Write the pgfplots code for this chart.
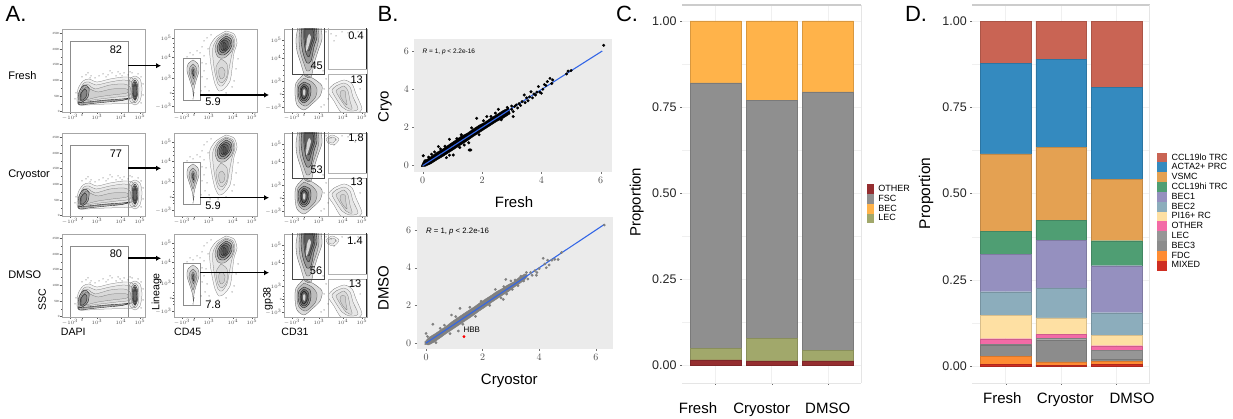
\documentclass[border=0pt]{standalone}
\usepackage{fontspec}
\setmainfont{Liberation Sans}
\usepackage{pgfplots}
\pgfplotsset{compat=1.18}
\usetikzlibrary{arrows.meta}
\definecolor{cOther}{HTML}{952E30}
\definecolor{cLec}{HTML}{A1A86B}
\definecolor{cFsc}{HTML}{8F8F8F}
\definecolor{cBec}{HTML}{FFB34A}
\definecolor{dLo}{HTML}{C96454}
\definecolor{dActa}{HTML}{348ABF}
\definecolor{dVsmc}{HTML}{E4A152}
\definecolor{dHi}{HTML}{4F9E73}
\definecolor{dBa}{HTML}{9590BF}
\definecolor{dBb}{HTML}{8CADBC}
\definecolor{dPi}{HTML}{FEE0A3}
\definecolor{dOth}{HTML}{F36BA6}
\definecolor{dLec}{HTML}{969696}
\definecolor{dBc}{HTML}{8C8C8C}
\definecolor{dFdc}{HTML}{FF8C33}
\definecolor{dMix}{HTML}{CF2E22}
\definecolor{gridc}{HTML}{F0F0F0}
\definecolor{blueline}{HTML}{3366E6}
\newcommand\lab[5][]{\node[inner sep=0,outer sep=0,font=\fontsize{#2}{#2}\selectfont,#1] at (#3pt,{(419-(#4))*1pt}) {\vphantom{Ay}#5};}
\pgfplotsset{
 ct/.style={smooth,no markers,draw=black!55,line width=.25pt,fill=black,fill opacity=.05},
 ctm/.style={smooth,no markers,draw=black!65,line width=.3pt,fill=black,fill opacity=.14},
 ctd/.style={smooth,no markers,draw=black!85,line width=.4pt,fill=black,fill opacity=.2},
 cw/.style={smooth,no markers,draw=none,fill=white,fill opacity=.75},
 gate/.style={no markers,draw=black!45,line width=.8pt,sharp plot},
 dots/.style={only marks,mark=*,mark size=.22pt,draw=black!70,fill=black!70},
 flow/.style={scale only axis,width=83pt,height=83pt,xmin=0,xmax=83,ymin=0,ymax=83,y dir=reverse,
  axis line style={draw=black!35,line width=.7pt},
  tick style={black!65,line width=.3pt},major tick length=1.6pt,minor tick length=.9pt,tick align=outside,
  xtick pos=lower,xticklabel pos=lower,ytick pos=left,
  tick label style={font=\fontsize{3}{3}\selectfont,inner sep=.6pt,text=black!70},
  xtick={8,20,35,59,78},xticklabels={$-10^3$,0,$10^3$,$10^4$,$10^5$},
  minor xtick={12,15,16,17,18,19,21,22,23,25,28,31,41,46,50,53,56,65,69,72,75},
  clip=true},
 bplot/.style={scale only axis,axis background/.style={fill=black!8},axis line style={draw=none},
  tick style={black!55,line width=.4pt},major tick length=2pt,tick align=outside,
  xtick pos=lower,ytick pos=left,xtick={0,2,4,6},ytick={0,2,4,6},
  tick label style={font=\fontsize{10}{10}\selectfont,text=black!70},
  clip=true},
 stack/.style={scale only axis,ybar stacked,ymin=-.05,
  axis line style={draw=none},ytick={0,.25,.5,.75,1},yticklabels={0.00,0.25,0.50,0.75,1.00},
  minor ytick={.125,.375,.625,.875},
  xtick={1,2,3},xticklabels={},
  ymajorgrids,xmajorgrids,yminorgrids,
  major grid style={gridc,line width=.7pt},minor grid style={gridc,line width=.4pt},
  tick style={black!60,line width=.4pt},major tick length=2pt,minor tick length=0pt,tick align=outside,
  xtick pos=lower,ytick pos=left,
  tick label style={font=\fontsize{12.5}{12.5}\selectfont,text=black!85},
  axis on top=false},
 seg/.style={draw=#1!85!black,line width=.3pt,fill=#1}
}
% --- contours of the DAPI / SSC gate, in pixels from the panel's top left corner
\newcommand\contA{
\addplot[ct] coordinates {(15,72)(16,60)(21,52)(27,50)(35,53)(48,50)(62,48)(70,49)(74,56)(74,68)(70,74)(45,75)(25,76)(17,76)(15,72)};
\addplot[ct] coordinates {(17,71)(18,61)(22,54)(27,53)(34,56)(48,53)(62,51)(70,53)(71,60)(71,68)(62,71)(40,72)(24,74)(18,74)(17,71)};
\addplot[ct] coordinates {(18,70)(19,62)(23,56)(27,56)(33,60)(48,56)(62,55)(68,58)(68,66)(55,68)(38,70)(24,72)(19,72)(18,70)};
\addplot[ct] coordinates {(19,70)(20,63)(24,58)(28,60)(36,63)(50,60)(65,60)(65,64)(50,66)(36,68)(24,71)(20,72)(19,70)};
\addplot[ctd] coordinates {(16,72)(17,63)(22,56)(27,59)(26,68)(22,72)(17,74)(16,72)};
\addplot[ctd] coordinates {(18,71)(19,64)(23,60)(25,63)(24,68)(21,71)(18,71)};
\addplot[ctd] coordinates {(16,74)(30,72.5)(45,71)(60,70)(68,69)(60,71.5)(45,73)(30,74.5)(18,76)(16,74)};
\addplot[ct] coordinates {(73,47)(78,50)(80,60)(78,72)(73,76)(68,72)(67,60)(68,50)(73,47)};
\addplot[ct] coordinates {(73,49)(76,52)(77,60)(76,70)(73,74)(70,70)(69,60)(70,52)(73,49)};
\addplot[ctd] coordinates {(73,51)(75,54)(76,61)(75,68)(73,71)(71,68)(70,61)(71,54)(73,51)};
\addplot[ctd] coordinates {(73,53)(74.5,56)(75,62)(74.5,67)(73,70)(71.5,67)(71,62)(71.5,56)(73,53)};
\addplot[ctd] coordinates {(73,55)(74,58)(74,63)(74,66)(73,68)(72,66)(72,62)(72,58)(73,55)};
\addplot[dots] coordinates {(20,48)(24,46)(29,47)(33,49)(37,47)(41,45)(46,46)(50,44)(54,47)(58,45)(62,44)(66,46)(70,44)(76,45)(79,48)(81,55)(81,66)(79,74)(28,49)(44,48)(60,47)(68,43)(26,44)(48,42)(56,43)(13,70)(14,64)};
}
% --- contours of the CD45 / Lineage gate
\newcommand\contB{
\addplot[ct] coordinates {(52,2)(60,5)(63,14)(60,24)(58,40)(56,52)(50,60)(45,62)(41,55)(38,42)(36,28)(36,17)(42,8)(52,2)};
\addplot[ct] coordinates {(52,4)(59,7)(61,15)(58,25)(55,40)(53,50)(48,57)(44,55)(41,44)(39,30)(39,18)(44,9)(52,4)};
\addplot[ct] coordinates {(47,30)(53,35)(53,47)(48,54)(44,50)(42,38)(47,30)};
\addplot[ct] coordinates {(48,38)(51,42)(50,48)(47,50)(45,46)(45,40)(48,38)};
\addplot[ctm] coordinates {(52,5)(58,8)(60,15)(57,23)(50,29)(44,28)(41,20)(44,11)(52,5)};
\addplot[ctd] coordinates {(52,7)(57,10)(58,16)(55,22)(50,26)(45,25)(43,19)(46,12)(52,7)};
\addplot[ctd] coordinates {(52,9)(56,12)(56,17)(53,21)(49,24)(46,22)(45,18)(47,13)(52,9)};
\addplot[ctd] coordinates {(51,11)(54,13)(54,17)(52,21)(49,22)(47,20)(47,16)(49,12)(51,11)};
\addplot[ctd] coordinates {(50,13)(52,15)(52,19)(50,21)(49,19)(49,15)(50,13)};
\addplot[ctm] coordinates {(19,31)(24,35)(25,42)(22,52)(20,60)(19.5,68)(18.5,60)(16,52)(13,42)(14,35)(19,31)};
\addplot[ctm] coordinates {(19,35)(22,38)(23,43)(21,50)(19,56)(17,50)(15,43)(16,38)(19,35)};
\addplot[ctm] coordinates {(19,38)(21,41)(21,45)(19.5,50)(18,46)(17,42)(19,38)};
\addplot[ctd] coordinates {(19,40)(20,43)(19.5,47)(18.5,44)(19,40)};
\addplot[dots] coordinates {(30,12)(33,9)(28,18)(26,24)(30,27)(23,22)(16,24)(19,26)(13,28)(32,35)(30,42)(33,50)(31,58)(35,62)(28,48)(27,62)(36,66)(44,66)(52,64)(58,58)(62,40)(64,30)(34,20)(37,6)(20,64)(19,70)(28,34)(60,52)};
}
% --- contours of the CD31 / gp38 gate
\newcommand\contC{
\addplot[ctm] coordinates {(14,-2)(12,10)(13,22)(17,35)(21,47)(27,48)(30,35)(34,22)(38,10)(37,-2)};
\addplot[ctm] coordinates {(16,-2)(15,10)(16,22)(20,35)(23,42)(27,40)(29,30)(33,18)(35,8)(34,-2)};
\addplot[ctd] coordinates {(18,-2)(17,10)(19,24)(23,34)(27,32)(30,18)(33,8)(32,-2)};
\addplot[ctd] coordinates {(20,-1)(20,12)(22,24)(25,28)(28,18)(31,8)(30,-1)(25,-1)};
\addplot[ctd] coordinates {(21,-1)(21,10)(23,20)(25,22)(27,16)(30,6)(28,-1)};
\addplot[cw] coordinates {(25,5)(27,8)(25,16)(23,22)(22,20)(23,10)(25,5)};
\addplot[ctm] coordinates {(20,45)(30,50)(38,57)(36,67)(28,75)(20,81)(13,76)(11,65)(12,54)(20,45)};
\addplot[ctm] coordinates {(20,49)(28,53)(33,60)(31,69)(22,77)(15,73)(13,64)(14,55)(20,49)};
\addplot[ctd] coordinates {(20,53)(26,56)(27,63)(25,70)(20,74)(16,71)(14,64)(15,57)(20,53)};
\addplot[ctd] coordinates {(20,55)(24,58)(25,64)(23,70)(20,72)(17,70)(16,64)(17,58)(20,55)};
\addplot[ctd,line width=.8pt] coordinates {(20,57)(23,60)(23,66)(20,70)(18,68)(17,63)(18,59)(20,57)};
\addplot[cw] coordinates {(20,60)(21.5,62)(21,66)(20,67)(19,65)(19,62)(20,60)};
\addplot[ct] coordinates {(50,55)(60,51)(68,55)(72,65)(78,80)(72,84)(58,84)(50,72)(44,62)(50,55)};
\addplot[ct] coordinates {(52,57)(60,54)(66,58)(69,68)(74,80)(66,82)(58,78)(50,66)(48,61)(52,57)};
\addplot[ct] coordinates {(54,60)(60,57)(64,62)(66,72)(68,80)(62,78)(55,68)(52,62)(54,60)};
\addplot[ct] coordinates {(57,62)(61,62)(62,70)(63,76)(59,72)(56,66)(57,62)};
\addplot[dots] coordinates {(42,3)(47,5)(52,7)(58,3)(64,4)(71,9)(74,3)(50,12)(39,42)(42,50)(44,70)(40,76)(70,52)(76,60)(37,78)(40,60)};
\addplot[gate,draw=black!72] coordinates {(8,-1)(8,45)(40,45)(40,-1)};
\addplot[gate,draw=black!30] coordinates {(44,-1)(44,40)(84,40)};
\addplot[gate,draw=black!30] coordinates {(44,84)(44,45)(84,45)};
\addplot[gate,draw=black!85] coordinates {(82.5,-1)(82.5,40)};
\addplot[gate,draw=black!85] coordinates {(82.5,45)(82.5,84)};
}
\newcommand\flowA[2]{\begin{axis}[flow,at={(#1pt,{(419-#2-83)*1pt})},anchor=south west,
 ytick={4,20,35,51,67,82},yticklabels={250K,200K,150K,100K,50K,0},
 minor ytick={12,28,43,59,75}]
\contA
\addplot[gate] coordinates {(8,84)(8,12)(66,12)(66,84)};
\end{axis}}
\newcommand\flowB[2]{\begin{axis}[flow,at={(#1pt,{(419-#2-83)*1pt})},anchor=south west,
 ytick={9,28,49,64,77},yticklabels={$10^5$,$10^4$,$10^3$,0,$-10^3$},
 minor ytick={14,18,22,34,39,43,58,61,67,70}]
\contB
\addplot[gate,line width=.6pt] coordinates {(9,29)(26,29)(26,71)(9,71)(9,29)};
\end{axis}}
\newcommand\flowC[3]{\begin{axis}[flow,at={(#1pt,{(419-#2-83)*1pt})},anchor=south west,
 ytick={11,29,52,65,78},yticklabels={$10^5$,$10^4$,$10^3$,0,$-10^3$},
 minor ytick={16,20,24,36,41,46,59,62,68,72}]
\contC
#3
\end{axis}}
\newcommand\smallc{
\addplot[ct] coordinates {(42,6)(48,2)(55,6)(50,12)(44,10)(42,6)};
\addplot[ct] coordinates {(44,6)(48,4)(52,6)(49,10)(45,9)(44,6)};
}
\begin{document}
\begin{tikzpicture}
\path[use as bounding box] (0,0) rectangle (1233pt,419pt);

% ---------- A ----------
\flowA{62}{29}\flowA{62}{133}\flowA{62}{234}
\flowB{174}{29}\flowB{174}{133}\flowB{174}{234}
\flowC{284}{29}{}\flowC{284}{133}{\smallc}\flowC{284}{234}{\smallc}
\foreach \xa/\xb/\yy in {128/161/65.7,200/269/95,128/161/168.3,200/269/197.7,128/161/258.3,200/269/272.7}{
 \draw[line width=1.6pt,-{Latex[length=5pt,width=5.5pt]}] (\xa pt,{(419-\yy)*1pt}) -- (\xb pt,{(419-\yy)*1pt});
}
\lab{22}{16}{16}{A.}
\lab[anchor=west]{11}{8.3}{77}{Fresh}
\lab[anchor=west]{11}{8.3}{175}{Cryostor}
\lab[anchor=west]{11}{8.3}{275.7}{DMSO}
\lab{11}{116}{51}{82}\lab{11}{116}{155}{77}\lab{11}{116}{255}{80}
\lab{11}{213}{103}{5.9}\lab{11}{213}{207}{5.9}\lab{11}{213}{305.7}{7.8}
\lab{11}{316.7}{67}{45}\lab{11}{316.7}{171}{53}\lab{11}{316}{272}{56}
\lab{11}{356}{36.7}{0.4}\lab{11}{356}{139.3}{1.8}\lab{11}{355}{242.3}{1.4}
\lab{11}{356.7}{81}{13}\lab{11}{356.7}{183.3}{13}\lab{11}{355}{285.3}{13}
\lab[rotate=90]{10.6}{43.3}{300}{SSC}
\lab[rotate=90]{10.6}{156.7}{292}{Lineage}
\lab[rotate=90]{10.6}{268}{299}{gp38}
\lab{10.6}{73.3}{332.7}{DAPI}
\lab{10.6}{187.7}{332.7}{CD45}
\lab{10.6}{295}{332.7}{CD31}

% ---------- B ----------
\begin{axis}[bplot,at={(414.3pt,247pt)},anchor=south west,width=198pt,height=133pt,
 xmin=-.283,xmax=6.39,ymin=-.33,ymax=6.63]
\addplot[draw=black,fill=black,line width=.4pt,no markers] coordinates {(-.05,-.02)(.05,.3)(.15,.34)(.3,.5)(.5,.72)(.7,.9)(.9,1.12)(1.1,1.33)(1.3,1.55)(1.5,1.7)(1.7,1.92)(1.9,2.12)(2.1,2.28)(2.3,2.5)(2.5,2.68)(2.7,2.88)(2.9,3.03)(2.95,2.72)(2.7,2.47)(2.5,2.32)(2.3,2.12)(2.1,1.92)(1.9,1.72)(1.7,1.52)(1.5,1.3)(1.3,1.1)(1.1,.9)(.9,.7)(.7,.5)(.5,.32)(.3,.12)(.1,-.03)(-.05,-.05)};
\addplot[only marks,mark=*,mark size=1.3pt,draw=black,fill=black] coordinates {
(.02,.52)(.2,.45)(.3,.6)(.4,.72)(.53,1.0)(.6,.88)(.75,1.02)(.8,.42)(.9,.55)(.9,1.38)(1.03,.56)(1.15,1.42)(1.25,.95)(1.3,1.62)(1.4,1.08)(1.57,.82)(1.62,.82)(1.55,1.2)(1.65,1.98)(1.82,2.48)(1.9,1.62)(2.05,2.35)(2.16,2.57)(2.3,2.58)(2.45,2.75)(2.55,2.95)(2.65,2.4)(2.85,3.05)(3.0,3.12)(3.05,2.57)(3.05,2.83)(3.0,2.95)(3.1,3.1)(3.15,3.18)(3.2,3.02)(3.25,3.25)(3.3,3.15)(3.35,3.35)(3.42,3.7)(3.45,3.3)(3.5,3.55)(3.55,3.4)(3.6,3.6)(3.65,3.87)(3.7,3.55)(3.75,3.75)(3.8,3.7)(3.85,3.85)(3.9,4.14)(3.95,3.85)(4.0,3.79)(4.05,4.0)(4.1,4.25)(4.15,4.2)(4.2,4.4)(4.29,4.57)(4.35,4.3)(4.38,4.49)(4.85,4.8)(4.9,4.95)(5.0,4.98)(6.1,6.3)};
\addplot[blueline,line width=1.1pt,no markers] coordinates {(0,0)(3,3)(6.05,6.0)};
\end{axis}
\begin{axis}[bplot,at={(416.7pt,70.3pt)},anchor=south west,width=196.6pt,height=131.4pt,
 xmin=-.33,xmax=6.62,ymin=-.3,ymax=6.68]
\addplot[draw=black!50,fill=black!50,line width=.4pt,no markers] coordinates {(-.05,.05)(.1,.3)(.3,.48)(.5,.68)(.7,.88)(.9,1.12)(1.1,1.33)(1.3,1.53)(1.5,1.73)(1.7,1.92)(1.9,2.14)(2.1,2.34)(2.3,2.53)(2.5,2.74)(2.7,2.9)(2.9,3.1)(3.1,3.25)(3.3,3.5)(3.5,3.68)(3.6,3.6)(3.5,3.38)(3.3,3.15)(3.1,2.95)(2.9,2.72)(2.7,2.54)(2.5,2.34)(2.3,2.14)(2.1,1.92)(1.9,1.72)(1.7,1.5)(1.5,1.29)(1.3,1.09)(1.1,.89)(.9,.69)(.7,.49)(.5,.27)(.3,.06)(.1,-.1)(-.05,-.08)};
\addplot[only marks,mark=*,mark size=1.2pt,draw=black!50,fill=black!50] coordinates {
(0,.51)(.05,.35)(.24,1.0)(.35,.02)(.5,.78)(.65,.95)(.85,.5)(.9,1.49)(1.05,1.4)(1.14,.64)(1.2,1.84)(1.3,1.0)(1.55,1.9)(1.75,1.42)(1.95,2.22)(2.25,2.0)(2.45,2.85)(2.65,2.4)(2.73,2.32)(2.75,3.0)(2.82,3.38)(2.85,2.6)(3.0,3.3)(3.05,2.85)(3.15,3.35)(3.25,3.05)(3.35,3.55)(3.45,3.3)(3.55,3.75)(3.6,3.4)(3.7,3.75)(3.75,3.6)(3.85,3.85)(3.9,3.6)(3.92,3.75)(4.0,3.95)(4.14,4.5)(4.2,4.2)(4.25,4.0)(4.3,4.4)(4.35,4.15)(4.45,4.4)(4.55,4.45)(4.67,4.44)(4.79,4.81)(6.3,6.27)};
\addplot[blueline,line width=1.1pt,no markers] coordinates {(0,0)(3,3)(6.3,6.3)};
\addplot[only marks,mark=*,mark size=1.2pt,draw=red,fill=red] coordinates {(1.34,.34)};
\end{axis}
\lab{22}{388}{16.7}{B.}
\lab{15}{514}{204}{Fresh}
\lab[rotate=90]{15}{385}{106.7}{Cryo}
\lab[rotate=90]{15}{385}{288.3}{DMSO}
\lab{15}{509.3}{380.7}{Cryostor}
\lab[anchor=west]{6.5}{422.7}{51.7}{\textit{R} = 1, \textit{p} < 2.2e-16}
\lab[anchor=west]{7.8}{426}{231.7}{\textit{R} = 1, \textit{p} < 2.2e-16}
\lab[anchor=west]{8}{463.5}{331}{HBB}

% ---------- C ----------
\begin{axis}[stack,at={(682pt,36pt)},anchor=south west,width=179pt,height=378pt,
 xmin=.405,xmax=3.584,ymin=-.052,ymax=1.0465,bar width=51pt]
\addplot[seg=cOther] coordinates {(1,.015)(2,.012)(3,.012)};
\addplot[seg=cLec] coordinates {(1,.033)(2,.066)(3,.031)};
\addplot[seg=cFsc] coordinates {(1,.772)(2,.692)(3,.751)};
\addplot[seg=cBec] coordinates {(1,.18)(2,.23)(3,.206)};
\end{axis}
\draw[black!20,line width=1.3pt] (682pt,414pt) -- (861pt,414pt);
\draw[black!10,line width=.7pt] (682pt,36pt) -- (861pt,36pt) (861pt,36pt) -- (861pt,414pt);
\lab{22}{627}{16}{C.}
\lab[rotate=90]{15}{636.7}{202.3}{Proportion}
\lab{15}{698}{410}{Fresh}
\lab{15}{761.7}{410}{Cryostor}
\lab{15}{827.7}{410}{DMSO}
\foreach \yy/\cc/\tt in {184.3/cOther/OTHER,194/cFsc/FSC,203.9/cBec/BEC,213.7/cLec/LEC}{
 \fill[\cc] (866.7pt,{(419-\yy)*1pt}) rectangle (874.3pt,{(419-\yy-9.7)*1pt});
 \lab[anchor=west]{9}{878.3}{\yy+5}{\tt}
}

% ---------- D ----------
\begin{axis}[stack,at={(972.3pt,36pt)},anchor=south west,width=177.4pt,height=378pt,
 xmin=.398,xmax=3.595,ymin=-.049,ymax=1.047,bar width=50.5pt]
\addplot[seg=dMix] coordinates {(1,.005)(2,.003)(3,.005)};
\addplot[seg=dFdc] coordinates {(1,.024)(2,.0096)(3,.0095)};
\addplot[seg=dBc] coordinates {(1,.031)(2,.064)(3,.0055)};
\addplot[seg=dLec] coordinates {(1,.003)(2,.0034)(3,.026)};
\addplot[seg=dOth] coordinates {(1,.0163)(2,.012)(3,.013)};
\addplot[seg=dPi] coordinates {(1,.0687)(2,.048)(3,.031)};
\addplot[seg=dBb] coordinates {(1,.0677)(2,.087)(3,.0647)};
\addplot[seg=dBa] coordinates {(1,.1083)(2,.137)(3,.1363)};
\addplot[seg=dHi] coordinates {(1,.0677)(2,.0586)(3,.0726)};
\addplot[seg=dVsmc] coordinates {(1,.2233)(2,.2124)(3,.178)};
\addplot[seg=dActa] coordinates {(1,.263)(2,.255)(3,.2659)};
\addplot[seg=dLo] coordinates {(1,.122)(2,.11)(3,.1925)};
\end{axis}
\draw[black!20,line width=1.3pt] (972.3pt,414pt) -- (1149.7pt,414pt);
\draw[black!10,line width=.7pt] (972.3pt,36pt) -- (1149.7pt,36pt) (1149.7pt,36pt) -- (1149.7pt,414pt);
\lab{22}{916}{16}{D.}
\lab[rotate=90]{15.5}{926}{193.3}{Proportion}
\lab{15}{1002.3}{400}{Fresh}
\lab{15}{1065.3}{400}{Cryostor}
\lab{15}{1132}{400}{DMSO}
\foreach \yy/\cc/\tt in {152.7/dLo/CCL19lo TRC,162.5/dActa/ACTA2+ PRC,172.3/dVsmc/VSMC,182.2/dHi/CCL19hi TRC,192/dBa/BEC1,201.8/dBb/BEC2,211.7/dPi/PI16+ RC,221.5/dOth/OTHER,231.3/dLec/LEC,241.2/dBc/BEC3,251/dFdc/FDC,260.8/dMix/MIXED}{
 \fill[\cc] (1157.3pt,{(419-\yy)*1pt}) rectangle (1167.3pt,{(419-\yy-9.8)*1pt});
 \lab[anchor=west]{9}{1171.7}{\yy+5}{\tt}
}
\end{tikzpicture}
\end{document}
